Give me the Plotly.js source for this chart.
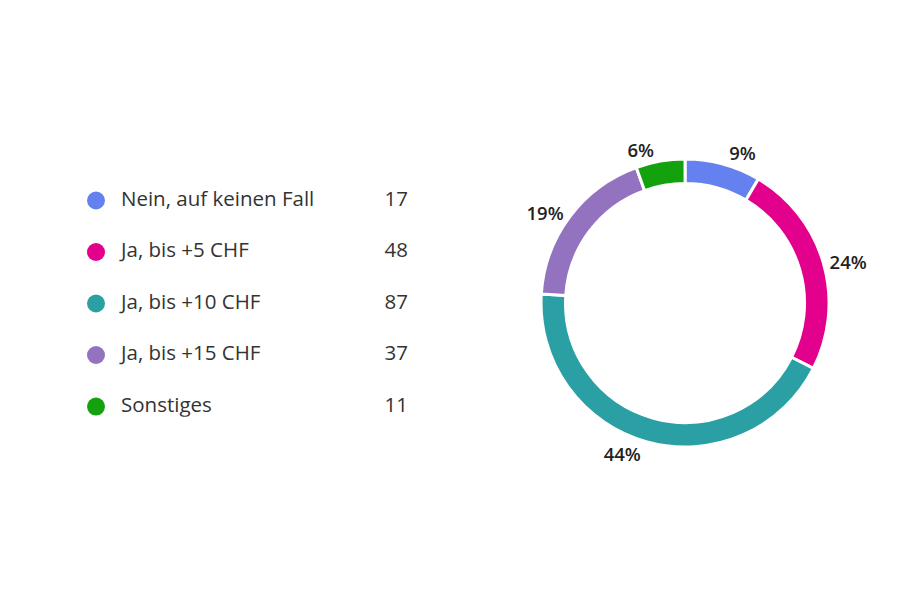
<!DOCTYPE html>
<html>
<head>
<meta charset="utf-8">
<script src="https://cdn.plot.ly/plotly-3.0.1.min.js"></script>
<style>
  html, body { margin: 0; padding: 0; background: #ffffff; }
  #chart { width: 898px; height: 600px; }
</style>
</head>
<body>
<div id="chart"></div>
<script>
  // Survey answers (counts) — order is the clockwise slice order from 12 o'clock
  var categories = ["Nein, auf keinen Fall", "Ja, bis +5 CHF", "Ja, bis +10 CHF", "Ja, bis +15 CHF", "Sonstiges"];
  var counts = [17, 48, 87, 37, 11];
  var colors = ["#6580ef", "#e3008c", "#2aa0a4", "#9373c0", "#13a10e"];

  var FONT = "'Open Sans', 'Noto Sans', sans-serif";
  var total = counts.reduce(function (a, b) { return a + b; }, 0);
  var pctText = counts.map(function (c) { return Math.round(c / total * 100) + "%"; });
  var rows = categories.map(function (_, i) { return i; });

  var traces = [
    {
      type: "pie", values: counts, labels: categories, text: pctText,
      textinfo: "text", textposition: "outside", sort: false,
      direction: "clockwise", rotation: 0, hole: 0.83,
      marker: { colors: colors, line: { color: "#ffffff", width: 3 } },
      outsidetextfont: { family: FONT, size: 18.5, color: "#222222", weight: 600 },
      domain: { x: [0.6025, 0.9232], y: [0.255, 0.735] },
      showlegend: false, hoverinfo: "label+value+percent"
    },
    // legend: coloured dots
    {
      type: "scatter", mode: "markers", x: rows.map(function () { return 96; }), y: rows,
      marker: { size: 18, color: colors }, hoverinfo: "skip", showlegend: false
    },
    // legend: category names
    {
      type: "scatter", mode: "text", x: rows.map(function () { return 121; }), y: rows,
      text: categories, textposition: "middle right",
      textfont: { family: FONT, size: 20.5, color: "#333333" }, hoverinfo: "skip", showlegend: false
    },
    // legend: counts, right aligned
    {
      type: "scatter", mode: "text", x: rows.map(function () { return 408; }), y: rows,
      text: counts.map(String), textposition: "middle left",
      textfont: { family: FONT, size: 20.5, color: "#333333" }, hoverinfo: "skip", showlegend: false
    }
  ];

  var layout = {
    width: 898, height: 600,
    paper_bgcolor: "#ffffff", plot_bgcolor: "#ffffff",
    margin: { l: 0, r: 0, t: 0, b: 0 },
    font: { family: FONT },
    xaxis: { domain: [0, 1], range: [0, 898], visible: false, fixedrange: true },
    // row index -> vertical position of each legend entry
    yaxis: { domain: [0.3053, 0.683], range: [4.2, -0.2], visible: false, fixedrange: true }
  };

  Plotly.newPlot("chart", traces, layout, { displayModeBar: false, staticPlot: true });
</script>
</body>
</html>
